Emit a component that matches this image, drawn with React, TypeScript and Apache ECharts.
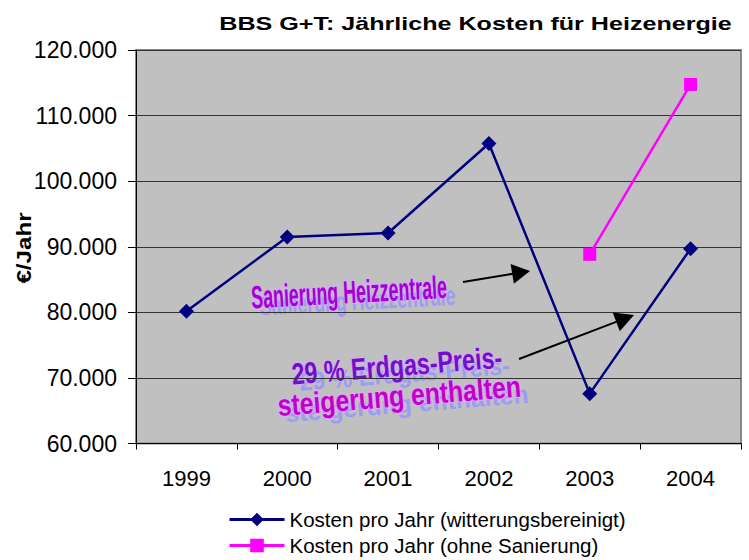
import React, { useEffect, useRef } from "react";
import * as echarts from "echarts";

// ---- data ----
const years = ["1999", "2000", "2001", "2002", "2003", "2004"];
const costsWeatherAdjusted = [80150, 91500, 92100, 105750, 67600, 89700];
const costsWithoutRenovation: (number | null)[] = [null, null, null, null, 88850, 114750];
const yMin = 60000;
const yMax = 120000;
const yInterval = 10000;
const titleText = "BBS G+T: Jährliche Kosten für Heizenergie";
const yAxisTitle = "€/Jahr";
const seriesNames = [
  "Kosten pro Jahr (witterungsbereinigt)",
  "Kosten pro Jahr (ohne Sanierung)",
];
const note1 = "Sanierung Heizzentrale";
const note2Lines = ["29 % Erdgas-Preis-", "steigerung enthalten"];

const FONT = '"Liberation Sans", Arial, sans-serif';

function fmt(v: number) {
  return String(Math.round(v)).replace(/\B(?=(\d{3})+(?!\d))/g, ".");
}

function arrow(x1: number, y1: number, x2: number, y2: number, headLen: number, headHalf: number) {
  const dx = x2 - x1;
  const dy = y2 - y1;
  const L = Math.hypot(dx, dy);
  const ux = dx / L;
  const uy = dy / L;
  const bx = x2 - ux * headLen;
  const by = y2 - uy * headLen;
  const px = -uy;
  const py = ux;
  return [
    {
      type: "line",
      shape: { x1, y1, x2: bx + ux * 2, y2: by + uy * 2 },
      style: { stroke: "#000", lineWidth: 2 },
      silent: true,
      z: 20,
    },
    {
      type: "polygon",
      shape: {
        points: [
          [x2, y2],
          [bx + px * headHalf, by + py * headHalf],
          [bx - px * headHalf, by - py * headHalf],
        ],
      },
      style: { fill: "#000" },
      silent: true,
      z: 20,
    },
  ];
}

function artText(
  text: string,
  y: number,
  fontSize: number,
  scaleX: number,
  color: string,
  shadowDx: number,
  shadowDy: number
) {
  const font = `bold ${fontSize}px ${FONT}`;
  return [
    {
      type: "text",
      x: shadowDx,
      y: y + shadowDy,
      scaleX,
      scaleY: 0.85,
      silent: true,
      style: {
        text,
        font,
        fill: "#9c9cf6",
        align: "center",
        verticalAlign: "middle",
      },
    },
    {
      type: "text",
      x: 0,
      y,
      scaleX,
      silent: true,
      style: {
        text,
        font,
        fill: color,
        stroke: "#d9aaff",
        lineWidth: 2,
        align: "center",
        verticalAlign: "middle",
      },
    },
  ];
}

export default function App() {
  const ref = useRef<HTMLDivElement>(null);

  useEffect(() => {
    if (!ref.current) return;
    const chart = echarts.init(ref.current, undefined, { renderer: "svg" });

    const option: any = {
      animation: false,
      backgroundColor: "#ffffff",
      textStyle: { fontFamily: FONT },
      grid: {
        left: 136,
        right: 8,
        top: 50,
        bottom: 116.5,
        show: true,
        backgroundColor: "#c0c0c0",
        borderColor: "#888888",
        borderWidth: 2,
      },
      legend: {
        orient: "vertical",
        left: 228,
        top: 509,
        height: 80,
        padding: 0,
        itemWidth: 55,
        itemHeight: 17,
        itemGap: 5,
        lineStyle: { width: 3 },
        textStyle: { fontSize: 20.5, color: "#000", fontFamily: FONT },
        data: seriesNames,
      },
      xAxis: {
        type: "category",
        data: years,
        boundaryGap: true,
        axisLine: { show: true, lineStyle: { color: "#000", width: 1 } },
        axisTick: { show: true, inside: false, length: 6, lineStyle: { color: "#000" } },
        axisLabel: { fontSize: 22, color: "#000", margin: 24, fontFamily: FONT },
        splitLine: { show: false },
      },
      yAxis: {
        type: "value",
        min: yMin,
        max: yMax,
        interval: yInterval,
        axisLine: { show: true, lineStyle: { color: "#000", width: 1 } },
        axisTick: { show: true, inside: false, length: 8, lineStyle: { color: "#000" } },
        axisLabel: {
          fontSize: 23,
          color: "#000",
          margin: 19,
          fontFamily: FONT,
          formatter: (v: number) => fmt(v),
        },
        splitLine: { show: true, lineStyle: { color: "#333333", width: 1 } },
      },
      series: [
        {
          name: seriesNames[0],
          type: "line",
          data: costsWeatherAdjusted,
          symbol: "diamond",
          symbolSize: 15,
          lineStyle: { color: "#000080", width: 2.5 },
          itemStyle: { color: "#000080" },
          z: 3,
        },
        {
          name: seriesNames[1],
          type: "line",
          data: costsWithoutRenovation.map((v) => (v === null ? "-" : v)),
          symbol: "rect",
          symbolSize: 13,
          lineStyle: { color: "#ff00ff", width: 2.5 },
          itemStyle: { color: "#ff00ff" },
          z: 3,
        },
      ],
      graphic: [
        {
          type: "text",
          x: 475.5,
          y: 24,
          scaleX: 1.35,
          style: {
            text: titleText,
            font: `bold 18.6px ${FONT}`,
            fill: "#000",
            align: "center",
            verticalAlign: "middle",
          },
        },
        {
          type: "text",
          x: 24,
          y: 248,
          rotation: Math.PI / 2,
          scaleX: 1.15,
          style: {
            text: yAxisTitle,
            font: `bold 21px ${FONT}`,
            fill: "#000",
            align: "center",
            verticalAlign: "middle",
          },
        },
        {
          type: "group",
          x: 349,
          y: 292,
          rotation: 0.053,
          z: 10,
          children: artText(note1, 0, 32, 0.557, "#a400d4", 8, 9),
        },
        {
          type: "group",
          x: 398,
          y: 381,
          rotation: 0.08,
          z: 10,
          children: [
            ...artText(note2Lines[0], -15, 30, 0.776, "#7010c8", 7, 8),
            ...artText(note2Lines[1], 15, 30, 0.827, "#c400c8", 7, 8),
          ],
        },
        ...arrow(463, 282, 530, 271, 18, 10),
        ...arrow(519, 359, 634, 315, 19, 10),
      ],
    };

    chart.setOption(option);
    return () => chart.dispose();
  }, []);

  return (
    <div
      ref={ref}
      style={{ position: "fixed", left: 0, top: 0, width: 749, height: 560 }}
    />
  );
}
